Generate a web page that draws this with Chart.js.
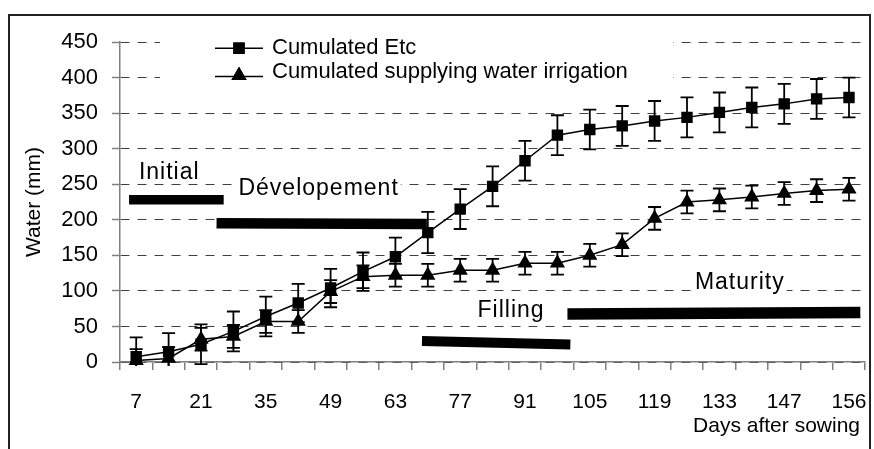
<!DOCTYPE html>
<html>
<head>
<meta charset="utf-8">
<script src="https://cdn.jsdelivr.net/npm/chart.js@4.4.1/dist/chart.umd.min.js"></script>
<style>
  html, body { margin: 0; padding: 0; background: #fff; }
</style>
</head>
<body>
<canvas id="myChart" width="874" height="449"></canvas>
<script>
// days after sowing (the last point is labelled 156 in the source figure)
const days = ['7', '14', '21', '28', '35', '42', '49', '56', '63', '70', '77', '84',
    '91', '98', '105', '112', '119', '126', '133', '140', '147', '154', '156'];
const xTickLabels = days.map((d, i) => i % 2 === 0 ? d : '');
const yTicks = [0, 50, 100, 150, 200, 250, 300, 350, 400, 450];

const etc = [7.5, 14.5, 25, 43, 64, 83, 104, 127, 148, 182, 215, 247,
    283, 319, 327, 332, 339, 344, 351, 358, 363, 370, 372];
const etcErr = [27, 26, 28, 28, 28, 27, 27, 27, 27, 29, 28, 28,
    28, 28, 28, 28, 28, 28, 28, 28, 28, 28, 28];

const irrigation = [2, 5, 32, 36, 57, 57, 99, 120, 122, 122, 129, 129,
    139, 139, 150, 165, 202, 225, 228, 232, 237, 241, 243];
const irrigationErr = [16, 16, 16, 16, 16, 16, 16, 16, 16, 16, 16, 16,
    16, 16, 16, 16, 16, 16, 16, 16, 16, 16, 16];

// growth stages, x in point index units, y in mm
const stageNames = ['Initial', 'Dévelopement', 'Filling', 'Maturity'];
const stageStart = [-0.22, 2.48, 8.82, 13.31];
const stageEnd = [2.70, 8.97, 13.40, 22.35];
const stageLevelStart = [228, 195, 29.5, 67.5];
const stageLevelEnd = [228, 194, 24.5, 69.5];
const stageLabelX = [1.02, 5.63, 11.57, 18.63];
const stageLabelY = [257, 235, 63, 103];

const fontFamily = '"Liberation Sans", Arial, sans-serif';
Chart.defaults.font.family = fontFamily;
Chart.defaults.color = '#000';

const barWidths = [9.5, 10.5, 10, 11.5];
const stageDatasets = stageNames.map((name, i) => ({
    label: name,
    xAxisID: 'x2',
    data: [{x: stageStart[i], y: stageLevelStart[i]}, {x: stageEnd[i], y: stageLevelEnd[i]}],
    borderColor: '#000',
    borderWidth: barWidths[i],
    borderCapStyle: 'butt',
    pointRadius: 0,
    fill: false
}));

function marker(c, style, radius, x, y) {
    if (Chart.helpers && Chart.helpers.drawPoint) {
        Chart.helpers.drawPoint(c, {pointStyle: style, radius: radius, rotation: 0, borderWidth: 1}, x, y);
        c.fill();
        c.stroke();
    }
}

const decorations = {
    id: 'decorations',
    beforeDatasetsDraw(chart) {
        const c = chart.ctx;
        const x2 = chart.scales.x2;
        const y = chart.scales.y;

        // legend, sitting inside the plot on a white box
        c.save();
        c.fillStyle = '#fff';
        c.fillRect(160, 28, 513, 58);
        c.strokeStyle = '#000';
        c.fillStyle = '#000';
        c.lineWidth = 1.5;
        const rows = [[0, 'rect', 7, 48.3, 54], [1, 'triangle', 7.3, 76.5, 78]];
        rows.forEach(([idx, style, r, ly, baseY]) => {
            c.beginPath();
            c.moveTo(215, ly);
            c.lineTo(263, ly);
            c.stroke();
            const my = style === 'triangle' ? ly - 1 : ly;
            marker(c, style, r, 239, my);
            c.font = '22px ' + fontFamily;
            c.textAlign = 'left';
            c.textBaseline = 'alphabetic';
            c.fillText(chart.data.datasets[idx].label, 272, baseY);
        });
        c.restore();

        // stage names
        c.save();
        c.font = '23px ' + fontFamily;
        c.letterSpacing = '1px';
        c.textAlign = 'center';
        c.textBaseline = 'alphabetic';
        stageNames.forEach((name, i) => {
            const px = x2.getPixelForValue(stageLabelX[i]);
            const py = y.getPixelForValue(stageLabelY[i]);
            const m = c.measureText(name);
            c.fillStyle = '#fff';
            c.fillRect(px - m.width / 2 - 2, py - m.actualBoundingBoxAscent - 2,
                m.width + 4, m.actualBoundingBoxAscent + m.actualBoundingBoxDescent + 4);
            c.fillStyle = '#000';
            c.fillText(name, px, py);
        });
        c.restore();
    },
    afterDatasetsDraw(chart) {
        const c = chart.ctx;
        const y = chart.scales.y;
        const area = chart.chartArea;
        c.save();
        c.beginPath();
        c.rect(area.left, area.top - 10, area.right - area.left, area.bottom - area.top + 14);
        c.clip();
        c.strokeStyle = '#000';
        c.lineWidth = 1.8;
        [[0, etc, etcErr], [1, irrigation, irrigationErr]].forEach(([idx, vals, errs]) => {
            const meta = chart.getDatasetMeta(idx);
            meta.data.forEach((pt, i) => {
                const top = y.getPixelForValue(vals[i] + errs[i]);
                const bottom = y.getPixelForValue(vals[i] - errs[i]);
                c.beginPath();
                c.moveTo(pt.x, top);
                c.lineTo(pt.x, bottom);
                c.moveTo(pt.x - 6.5, top);
                c.lineTo(pt.x + 6.5, top);
                c.moveTo(pt.x - 6.5, bottom);
                c.lineTo(pt.x + 6.5, bottom);
                c.stroke();
            });
        });
        c.restore();
    },
    afterDraw(chart) {
        const c = chart.ctx;
        c.save();
        c.fillStyle = '#000';
        c.font = '21px ' + fontFamily;
        c.textAlign = 'right';
        c.textBaseline = 'alphabetic';
        c.fillText('Days after sowing', 860, 432);
        // outer frame
        c.strokeStyle = '#222';
        c.lineWidth = 2;
        c.strokeRect(9, 15, 861, 500);
        c.restore();
    }
};

const myChart = new Chart(document.getElementById('myChart').getContext('2d'), {
    type: 'line',
    data: {
        labels: days,
        datasets: [{
            label: 'Cumulated Etc',
            xAxisID: 'x',
            data: etc,
            borderColor: '#000',
            backgroundColor: '#000',
            borderWidth: 1.5,
            pointStyle: 'rect',
            pointRadius: 7,
            tension: 0,
            clip: false
        }, {
            label: 'Cumulated supplying water irrigation',
            xAxisID: 'x',
            data: irrigation,
            borderColor: '#000',
            backgroundColor: '#000',
            borderWidth: 1.5,
            pointStyle: 'triangle',
            pointRadius: 7.3,
            tension: 0,
            clip: false
        }, ...stageDatasets]
    },
    options: {
        responsive: false,
        animation: false,
        devicePixelRatio: 1,
        events: [],
        layout: {padding: {left: 0, right: 6, top: 42, bottom: 0}},
        plugins: {
            legend: {display: false},
            tooltip: {enabled: false}
        },
        scales: {
            x: {
                type: 'category',
                offset: true,
                ticks: {
                    autoSkip: false,
                    maxRotation: 0,
                    padding: 20,
                    font: {size: 21},
                    callback: (value, index) => xTickLabels[index]
                },
                grid: {
                    offset: true,
                    drawOnChartArea: false,
                    color: '#808080',
                    lineWidth: 1.5,
                    tickLength: 8
                },
                border: {color: '#808080', width: 1.5},
                afterFit: (scale) => {
                    scale.height = 87;
                    scale.paddingLeft = 0;
                    scale.paddingRight = 0;
                }
            },
            x2: {
                type: 'linear',
                display: false,
                min: -0.5,
                max: 22.5
            },
            y: {
                min: 0,
                max: 450,
                afterBuildTicks: (scale) => {
                    scale.ticks = yTicks.map(v => ({value: v}));
                },
                ticks: {
                    padding: 14,
                    font: {size: 22}
                },
                grid: {
                    color: '#404040',
                    lineWidth: 1,
                    tickColor: '#808080',
                    tickWidth: 1.5,
                    tickLength: 8
                },
                border: {color: '#808080', width: 1.5, dash: [9, 8]},
                title: {
                    display: true,
                    text: 'Water (mm)',
                    font: {size: 21},
                    padding: {top: 22, bottom: 0}
                },
                afterFit: (scale) => {
                    scale.width = 120;
                    scale.paddingTop = 0;
                    scale.paddingBottom = 0;
                }
            }
        }
    },
    plugins: [decorations]
});
</script>
</body>
</html>
